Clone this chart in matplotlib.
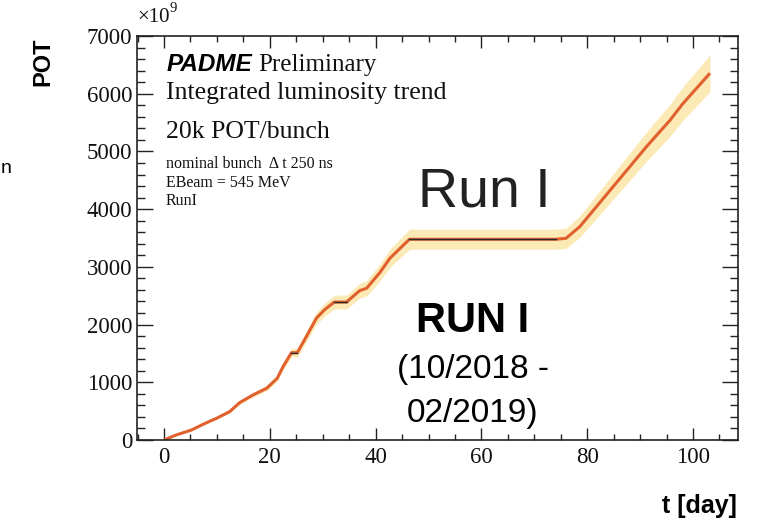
import matplotlib
matplotlib.use("Agg")
import matplotlib.pyplot as plt
from matplotlib.ticker import MultipleLocator
import numpy as np

# ---- data ----
days = [0, 2.3, 5.2, 7.5, 9.9, 12.4, 14.3, 16.8, 19.4, 21.4, 22.5, 24.1, 25.2,
        26.9, 28.8, 30.3, 32.2, 34.5, 37.0, 38.3, 40.8, 42.7, 46.4, 74.1,
        76.0, 78.6, 84.9, 87.8, 91.2, 95.7, 98.0, 103.2]
pot = [0, 87, 173, 277, 375, 491, 647, 780, 896, 1069, 1271, 1513, 1513,
       1790, 2109, 2253, 2390, 2390, 2588, 2629, 2900, 3149, 3478, 3478,
       3495, 3697, 4390, 4708, 5083, 5546, 5820, 6355]
rel_unc = 0.05  # relative width of the yellow uncertainty band

xticks = [0, 20, 40, 60, 80, 100]
yticks = [0, 1000, 2000, 3000, 4000, 5000, 6000, 7000]

W, H = 758, 520
fig = plt.figure(figsize=(W / 100, H / 100), dpi=100)

def fx(px):
    return px / W

def fy(py):
    return 1 - py / H

L, R, T, B = 137, 738, 36, 440
ax = fig.add_axes([fx(L), fy(B), fx(R) - fx(L), fy(T) - fy(B)])

SERIF = "Liberation Serif"
SANS = "Liberation Sans"

d = np.array(days)
p = np.array(pot)
ax.fill_between(d, p * (1 - rel_unc), p * (1 + rel_unc), color="#fbe9b6",
                lw=0, zorder=1)
ax.plot(d, p, color="#e0602e", lw=2.2, zorder=2, solid_capstyle="butt")
# flat (no-beam) stretches drawn in dark
for i in range(len(d) - 1):
    if p[i] == p[i + 1]:
        ax.plot(d[i:i + 2], p[i:i + 2], color="#2b2b2b", lw=1.0, zorder=3)

ax.set_xlim(-5.1, 108.5)
ax.set_ylim(0, 7000)
ax.set_xticks(xticks)
ax.set_yticks(yticks)
ax.xaxis.set_minor_locator(MultipleLocator(5))
ax.yaxis.set_minor_locator(MultipleLocator(200))
ax.tick_params(axis="both", which="both", direction="in", top=True,
               right=True, color="#222222", width=1.0)
ax.tick_params(axis="x", which="major", length=8.6, pad=5)
ax.tick_params(axis="x", which="minor", length=4.3)
ax.tick_params(axis="y", which="major", length=11.5, pad=3.5)
ax.tick_params(axis="y", which="minor", length=5.8)
for lab in ax.get_xticklabels() + ax.get_yticklabels():
    lab.set_fontfamily(SERIF)
    lab.set_fontsize(16.5)
    lab.set_color("#111111")
for s in ax.spines.values():
    s.set_linewidth(1.2)
    s.set_color("#222222")

# exponent
fig.text(fx(137), fy(22), "\u00d710", family=SERIF, fontsize=15,
         ha="left", va="baseline", color="#111111")
fig.text(fx(170), fy(12), "9", family=SERIF, fontsize=10.5,
         ha="left", va="baseline", color="#111111")

# ROOT style header texts
fig.text(fx(167), fy(71), "PADME", family=SANS, fontsize=17.5,
         fontweight="bold", fontstyle="italic", ha="left", va="baseline")
fig.text(fx(258), fy(71), "Preliminary", family=SERIF, fontsize=18,
         ha="left", va="baseline", color="#111111")
fig.text(fx(166), fy(99), "Integrated luminosity trend", family=SERIF,
         fontsize=18.5, ha="left", va="baseline", color="#111111")
fig.text(fx(166), fy(138), "20k POT/bunch", family=SERIF,
         fontsize=18.5, ha="left", va="baseline", color="#111111")
fig.text(fx(166), fy(168), "nominal bunch  \u0394 t 250 ns", family=SERIF,
         fontsize=11.5, ha="left", va="baseline", color="#111111")
fig.text(fx(166), fy(187), "EBeam = 545 MeV", family=SERIF,
         fontsize=11.5, ha="left", va="baseline", color="#111111")
fig.text(fx(166), fy(205), "RunI", family=SERIF,
         fontsize=11.5, ha="left", va="baseline", color="#111111")

# slide overlay texts
fig.text(fx(418), fy(207), "Run I", family=SANS, fontsize=40,
         ha="left", va="baseline", color="#222222")
fig.text(fx(473), fy(332), "RUN I", family=SANS, fontsize=30,
         fontweight="bold", ha="center", va="baseline", color="black")
fig.text(fx(473), fy(378), "(10/2018 -", family=SANS, fontsize=24,
         ha="center", va="baseline", color="black")
fig.text(fx(473), fy(422), "02/2019)", family=SANS, fontsize=24,
         ha="center", va="baseline", color="black")

fig.text(fx(43), fy(62), "POT", family=SANS, fontsize=17,
         fontweight="bold", rotation=90, ha="center", va="center")
fig.text(fx(737), fy(513), "t [day]", family=SANS, fontsize=18,
         fontweight="bold", ha="right", va="baseline")
fig.text(fx(1), fy(173), "n", family=SANS, fontsize=14,
         ha="left", va="baseline", color="black")

fig.savefig("out.png", dpi=100)
